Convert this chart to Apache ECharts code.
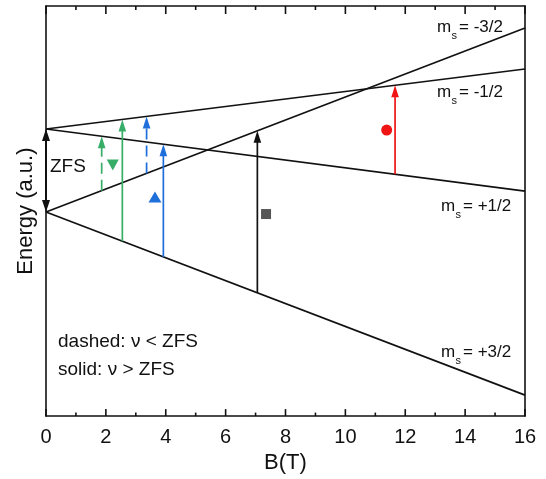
<!DOCTYPE html>
<html>
<head>
<meta charset="utf-8">
<script src="https://cdn.jsdelivr.net/npm/echarts@6/dist/echarts.min.js"></script>
<style>html,body{margin:0;padding:0;background:#fff}#c{width:546px;height:479px}</style>
</head>
<body>
<div id="c"></div>
<script>
// ---- data ----
const xTickLabels = [0, 2, 4, 6, 8, 10, 12, 14, 16];
const xMinorTicks = [1, 3, 5, 7, 9, 11, 13, 15];
const levelNames = ['-3/2', '-1/2', '+1/2', '+3/2'];
const levelB = [0, 16];
const levelE_m32 = [2.04, 3.88];
const levelE_m12 = [2.87, 3.47];
const levelE_p12 = [2.87, 2.25];
const levelE_p32 = [2.04, 0.21];

const arrowB = [1.86, 2.55, 3.36, 3.92, 7.06, 11.66];
const arrowFrom = ['-3/2', '+3/2', '-3/2', '+3/2', '+3/2', '+1/2'];
const arrowTo = ['+1/2', '-1/2', '-1/2', '+1/2', '-3/2', '-1/2'];
const arrowDashed = [true, false, true, false, false, false];

const zfsB = 0;
const zfsFrom = '-3/2';
const zfsTo = '-1/2';

const markerB = [2.23, 3.64, 7.35, 11.38];
const markerE = [2.51, 2.19, 2.02, 2.86];

// ---- styles ----
const GREEN = '#38ad68', BLUE = '#1f6fdb', RED = '#f01414', BLACK = '#111', GRAY = '#555';
const arrowColors = [GREEN, GREEN, BLUE, BLUE, BLACK, RED];
const markerColors = [GREEN, BLUE, GRAY, RED];
const markerSymbols = ['triangle', 'triangle', 'rect', 'circle'];
const markerRot = [180, 0, 0, 0];
const markerSizes = [[12, 11], [13, 11], [10, 10], [11, 11]];
const Y_MIN = 0, Y_MAX = 4.1;

const levelE = { '-3/2': levelE_m32, '-1/2': levelE_m12, '+1/2': levelE_p12, '+3/2': levelE_p32 };
function energyAt(name, b) {
  const e = levelE[name];
  return e[0] + (e[1] - e[0]) * (b - levelB[0]) / (levelB[1] - levelB[0]);
}

const arrowData = arrowB.map((b, i) => [b, energyAt(arrowFrom[i], b), energyAt(arrowTo[i], b), i]);
// tick rows: [value, lowEnergy, highEnergy, isMajor]
const tickData = xTickLabels.map(v => [v, Y_MIN + 0.0001, Y_MAX - 0.0001, 1])
  .concat(xMinorTicks.map(v => [v, Y_MIN + 0.0001, Y_MAX - 0.0001, 0]));

function renderArrow(params, api) {
  const i = api.value(3);
  const p0 = api.coord([api.value(0), api.value(1)]);
  const p1 = api.coord([api.value(0), api.value(2)]);
  const c = arrowColors[i];
  const headL = 12, headW = 3.8;
  return {
    type: 'group',
    children: [
      { type: 'line', shape: { x1: p0[0], y1: p0[1], x2: p1[0], y2: p1[1] + headL * 0.7 },
        style: { stroke: c, lineWidth: 1.7, lineDash: arrowDashed[i] ? [11, 6] : null } },
      { type: 'polygon', shape: { points: [[p1[0], p1[1]], [p1[0] - headW, p1[1] + headL], [p1[0] + headW, p1[1] + headL]] },
        style: { fill: c } }
    ]
  };
}

function renderTicks(params, api) {
  const major = api.value(3) > 0.5;
  const pb = api.coord([api.value(0), api.value(1)]);
  const pt = api.coord([api.value(0), api.value(2)]);
  const lb = major ? 7 : 3.5, lt = major ? 8 : 4;
  return {
    type: 'group',
    children: [
      { type: 'polygon', shape: { points: [[pb[0] - 0.8, pb[1]], [pb[0] + 0.8, pb[1]], [pb[0] + 0.8, pb[1] - lb], [pb[0] - 0.8, pb[1] - lb]] },
        style: { fill: BLACK } },
      { type: 'polygon', shape: { points: [[pt[0] - 0.8, pt[1]], [pt[0] + 0.8, pt[1]], [pt[0] + 0.8, pt[1] + lt], [pt[0] - 0.8, pt[1] + lt]] },
        style: { fill: BLACK } }
    ]
  };
}

function renderZfs(params, api) {
  const p0 = api.coord([api.value(0), api.value(1)]);
  const p1 = api.coord([api.value(0), api.value(2)]);
  const headL = 12, headW = 4;
  return {
    type: 'group',
    children: [
      { type: 'line', shape: { x1: p0[0], y1: p0[1] - headL * 0.7, x2: p1[0], y2: p1[1] + headL * 0.7 },
        style: { stroke: BLACK, lineWidth: 2 } },
      { type: 'polygon', shape: { points: [[p1[0], p1[1]], [p1[0] - headW, p1[1] + headL], [p1[0] + headW, p1[1] + headL]] }, style: { fill: BLACK } },
      { type: 'polygon', shape: { points: [[p0[0], p0[1]], [p0[0] - headW, p0[1] - headL], [p0[0] + headW, p0[1] - headL]] }, style: { fill: BLACK } }
    ]
  };
}

const levelSeries = levelNames.map(n => ({
  type: 'line', name: n, data: levelB.map((b, j) => [b, levelE[n][j]]),
  showSymbol: false, symbol: 'none', silent: true, animation: false,
  lineStyle: { color: BLACK, width: 1.7 }, z: 3
}));

const markerSeries = markerB.map((b, i) => ({
  type: 'scatter', data: [[b, markerE[i]]], symbol: markerSymbols[i],
  symbolSize: markerSizes[i], symbolRotate: markerRot[i],
  itemStyle: { color: markerColors[i], opacity: 1 }, animation: false, z: 5
}));

const FONT = '"Liberation Sans", Arial, sans-serif';

function msLabel(x, y, val) {
  return {
    type: 'group', x: x, y: y,
    children: [
      { type: 'text', x: 0, y: 0, style: { text: 'm', font: '17px ' + FONT, fill: '#111', verticalAlign: 'bottom' } },
      { type: 'text', x: 14.5, y: 5, style: { text: 's', font: '11px ' + FONT, fill: '#111', verticalAlign: 'bottom' } },
      { type: 'text', x: 22, y: 0, style: { text: '= ' + val, font: '17px ' + FONT, fill: '#111', verticalAlign: 'bottom' } }
    ]
  };
}

const chart = echarts.init(document.getElementById('c'), null, { renderer: 'canvas' });
chart.setOption({
  animation: false,
  backgroundColor: '#fff',
  grid: { left: 46, right: 21, top: 6, bottom: 62, containLabel: false },
  xAxis: [
    {
      type: 'value', min: 0, max: 16, interval: 2, position: 'bottom',
      name: 'B(T)', nameLocation: 'middle', nameGap: 34,
      nameTextStyle: { fontFamily: FONT, fontSize: 22, color: '#111' },
      axisLine: { show: true, onZero: false, lineStyle: { color: BLACK, width: 1.6 } },
      axisTick: { show: false },
      axisLabel: { fontFamily: FONT, fontSize: 20, color: '#111', margin: 11,
        formatter: v => xTickLabels.includes(v) ? String(v) : '' },
      splitLine: { show: false }
    },
    {
      type: 'value', min: 0, max: 16, interval: 2, position: 'top',
      axisLine: { show: true, onZero: false, lineStyle: { color: BLACK, width: 1.6 } },
      axisTick: { show: false }, axisLabel: { show: false }, splitLine: { show: false }
    }
  ],
  yAxis: [
    {
      type: 'value', min: Y_MIN, max: Y_MAX, position: 'left',
      name: 'Energy (a.u.)', nameLocation: 'middle', nameGap: 9,
      nameTextStyle: { fontFamily: FONT, fontSize: 22, color: '#111' },
      axisLine: { show: true, onZero: false, lineStyle: { color: BLACK, width: 1.6 } },
      axisTick: { show: false }, axisLabel: { show: false }, splitLine: { show: false }
    },
    {
      type: 'value', min: Y_MIN, max: Y_MAX, position: 'right',
      axisLine: { show: true, onZero: false, lineStyle: { color: BLACK, width: 1.6 } },
      axisTick: { show: false }, axisLabel: { show: false }, splitLine: { show: false }
    }
  ],
  series: [
    ...levelSeries,
    {
      type: 'custom', renderItem: renderArrow, data: arrowData, clip: false,
      encode: { x: 0, y: [1, 2] }, animation: false, z: 4, silent: true
    },
    {
      type: 'custom', renderItem: renderTicks, data: tickData, clip: false,
      encode: { x: 0, y: [1, 2] }, animation: false, z: 7, silent: true
    },
    {
      type: 'custom', renderItem: renderZfs, clip: false,
      data: [[zfsB, energyAt(zfsFrom, zfsB), energyAt(zfsTo, zfsB)]],
      encode: { x: 0, y: [1, 2] }, animation: false, z: 6, silent: true
    },
    ...markerSeries
  ],
  graphic: [
    msLabel(437, 36, levelNames[0]),
    msLabel(437, 101, levelNames[1]),
    msLabel(441, 215, levelNames[2]),
    msLabel(441, 361, levelNames[3]),
    { type: 'text', x: 50, y: 167, style: { text: 'ZFS', font: '19px ' + FONT, fill: '#111', verticalAlign: 'middle' } },
    { type: 'text', x: 58, y: 342, style: { text: 'dashed: \u03bd < ZFS', font: '19px ' + FONT, fill: '#111', verticalAlign: 'middle' } },
    { type: 'text', x: 58, y: 370, style: { text: 'solid: \u03bd > ZFS', font: '19px ' + FONT, fill: '#111', verticalAlign: 'middle' } }
  ]
});
</script>
</body>
</html>
